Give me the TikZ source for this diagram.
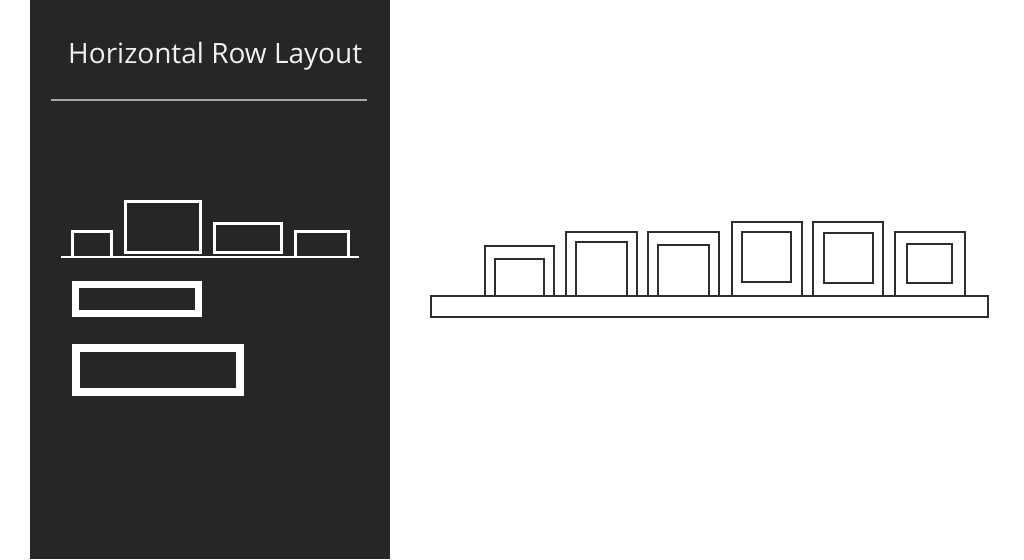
\documentclass[tikz,border=0pt]{standalone}
\usepackage{fontspec}
\setmainfont{Open Sans}
\usepackage{tikz}
\usepackage{xcolor}
\definecolor{panel}{HTML}{262626}
\definecolor{rule}{HTML}{A8A8A8}
\definecolor{ink}{HTML}{2E2E2E}
\tikzset{>=latex}

\begin{document}
\begin{tikzpicture}[x=1pt, y=-1pt]
    \useasboundingbox (0, 0) rectangle (1024, 559);
    \fill[white] (0, 0) rectangle (1024, 559);
    % dark side panel
    \fill[panel] (30, 0) rectangle (390, 559);
    \node[anchor=base west, inner sep=0, text=white!94!black, font=\fontsize{28}{33}\selectfont] (title) at (68, 63.5) {Horizontal Row Layout};
    \draw[rule, line width=1.5] (51, 100) -- (367, 100);
    % small shelf icon
    \draw[white, line width=2] (61, 256.5) -- (359, 256.5);
    \draw[white, line width=3] (72.5, 256) -- (72.5, 231.5) -- (111.5, 231.5) -- (111.5, 256);
    \draw[white, line width=3] (125.5, 201.5) rectangle (200.5, 252);
    \draw[white, line width=3] (214.5, 223) rectangle (281, 252);
    \draw[white, line width=3] (295.5, 256) -- (295.5, 231.5) -- (348, 231.5) -- (348, 256);
    \draw[white, line width=7] (75.2, 284.5) rectangle (198.2, 313.2);
    \draw[white, line width=8] (76.3, 348) rectangle (240, 392);
    % shelf with frames
    \draw[ink, line width=2] (431, 295.5) rectangle (988, 316.5);
    \draw[ink, line width=2] (485, 295.5) -- (485, 246) -- (554.3, 246) -- (554.3, 295.5);
    \draw[ink, line width=2] (495, 295.5) rectangle (544.3, 259);
    \draw[ink, line width=2] (566, 295.5) -- (566, 232) -- (636.7, 232) -- (636.7, 295.5);
    \draw[ink, line width=2] (576, 295.5) rectangle (626.7, 242.3);
    \draw[ink, line width=2] (648.3, 295.5) -- (648.3, 232) -- (719.3, 232) -- (719.3, 295.5);
    \draw[ink, line width=2] (658.3, 295.5) rectangle (709, 245);
    \draw[ink, line width=2] (731.7, 295.5) -- (731.7, 221.7) -- (801.7, 221.7) -- (801.7, 295.5);
    \draw[ink, line width=2] (741.7, 232) rectangle (791.3, 282);
    \draw[ink, line width=2] (813.3, 295.5) -- (813.3, 222.3) -- (883.3, 222.3) -- (883.3, 295.5);
    \draw[ink, line width=2] (823.7, 232.7) rectangle (873, 283);
    \draw[ink, line width=2] (895, 295.5) -- (895, 232.3) -- (964.7, 232.3) -- (964.7, 295.5);
    \draw[ink, line width=2] (907.3, 244.3) rectangle (951.7, 283);
\end{tikzpicture}
\end{document}
